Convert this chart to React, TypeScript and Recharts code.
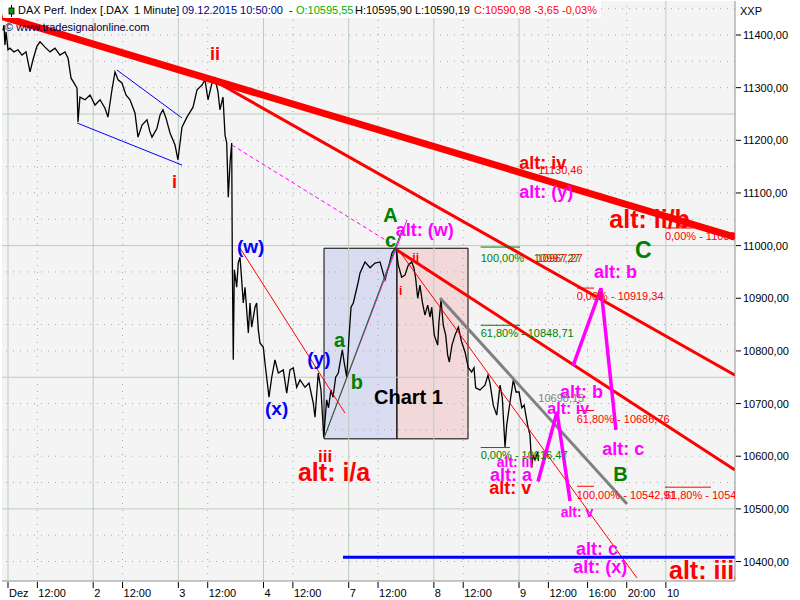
import React from "react";
import {
  ComposedChart,
  Line,
  XAxis,
  YAxis,
  CartesianGrid,
  ReferenceLine,
  ReferenceArea,
  ReferenceDot,
} from "recharts";

// x is trading time in hours since 1 Dec 09:00 (historic days ~8.7h apart, future part continuous)
const xTickVals = [0, 3, 8.7, 11.7, 17.4, 20.4, 26.1, 29.1, 34.8, 37.8, 43.5, 46.5, 52.2, 55.2, 59.2, 63.2, 67.2];
const xTickLabels = ["Dez", "12:00", "2", "12:00", "3", "12:00", "4", "12:00", "7", "12:00", "8", "12:00", "9", "12:00", "16:00", "20:00", "10"];
const daySplits = [0, 8.7, 17.4, 26.1, 34.8, 43.5, 52.2, 67.2];
const hourMarks = [3, 11.7, 20.4, 29.1, 37.8, 46.5, 55.2, 59.2, 63.2];

const yTicks = [10400, 10500, 10600, 10700, 10800, 10900, 11000, 11100, 11200, 11300, 11400];
const yMajor = [10500, 10750, 11000, 11250];
const yMinor = [10400, 10450, 10550, 10600, 10650, 10700, 10800, 10850, 10900, 10950, 11050, 11100, 11150, 11200, 11300, 11350, 11400, 11450];

// DAX 1 minute closes [time, price]
const dax1m: [number, number][] = [
  [-0.51, 11409], [-0.41, 11419], [-0.31, 11381], [-0.2, 11406], [0, 11372], [0.2, 11375], [0.61, 11368],
  [1.02, 11372], [1.43, 11362], [1.84, 11368], [2.25, 11330], [2.55, 11353], [2.96, 11379], [3.27, 11387],
  [3.78, 11377], [4.29, 11368], [4.8, 11375], [5.31, 11362], [5.82, 11368], [6.13, 11356], [6.44, 11318],
  [6.74, 11309], [7.05, 11299], [7.15, 11235], [7.35, 11282], [7.87, 11277], [8.38, 11286], [8.89, 11267],
  [9.4, 11277], [9.91, 11261], [10.21, 11244], [10.62, 11296], [10.93, 11330], [11.24, 11315], [11.64, 11309],
  [12.05, 11286], [12.46, 11277], [12.97, 11252], [13.28, 11206], [13.69, 11229], [14.2, 11239], [14.5, 11216],
  [14.71, 11206], [15.22, 11223], [15.53, 11248], [15.83, 11258], [16.14, 11242], [16.55, 11214], [17.06, 11191],
  [17.36, 11163], [17.77, 11225], [18.28, 11244], [18.9, 11263], [19.31, 11296], [19.82, 11305], [20.12, 11315],
  [20.43, 11277], [20.84, 11309], [21.14, 11318], [21.45, 11292], [21.65, 11258], [21.96, 11282], [22.17, 11210],
  [22.34, 11195], [22.5, 11092], [22.68, 11157], [22.85, 11195], [22.91, 10978], [23.01, 10783], [23.12, 10954],
  [23.36, 10921], [23.52, 10967], [23.7, 10978], [23.87, 10935], [24.03, 10891], [24.21, 10921], [24.38, 10878],
  [24.55, 10834], [24.72, 10891], [24.89, 10845], [25.23, 10883], [25.4, 10891], [25.57, 10840], [25.74, 10815],
  [26.08, 10807], [26.25, 10777], [26.66, 10712], [26.94, 10750], [27.27, 10783], [27.61, 10758], [28.12, 10764],
  [28.47, 10720], [28.8, 10764], [29.14, 10768], [29.49, 10731], [29.83, 10745], [30.34, 10731], [30.75, 10739],
  [31.18, 10701], [31.36, 10674], [31.69, 10758], [31.97, 10726], [32.25, 10636], [32.55, 10707], [32.74, 10692],
  [32.99, 10726], [33.2, 10712], [33.47, 10750], [33.74, 10758], [33.91, 10777], [34.15, 10802], [34.35, 10777],
  [34.6, 10750], [34.83, 10826], [35.04, 10883], [35.27, 10891], [35.75, 10929], [35.96, 10948], [36.47, 10969],
  [36.98, 10958], [37.49, 10967], [38, 10969], [38.51, 10935], [38.92, 10963], [39.22, 10986], [39.6, 10997],
  [39.87, 10963], [40.21, 10940], [40.55, 10944], [40.89, 10963], [41.24, 10969], [41.47, 10957], [41.64, 10938],
  [41.85, 10900], [42.08, 10925], [42.32, 10893], [42.59, 10868], [42.87, 10887], [43.11, 10864], [43.28, 10883],
  [43.54, 10830], [43.89, 10811], [44.02, 10855], [44.23, 10897], [44.46, 10849], [44.71, 10830], [44.91, 10792],
  [45.08, 10779], [45.35, 10811], [45.66, 10830], [46.0, 10845], [46.34, 10817], [46.68, 10798], [47.02, 10768],
  [47.36, 10760], [47.6, 10768], [47.77, 10730], [48.21, 10726], [48.72, 10735], [49.03, 10754], [49.23, 10739],
  [49.57, 10697], [49.92, 10678], [50.26, 10735], [50.49, 10711], [50.77, 10617], [50.94, 10659], [51.28, 10703],
  [51.62, 10745], [51.89, 10722], [52.2, 10722], [52.48, 10692], [52.72, 10697], [53.08, 10659], [53.32, 10640],
  [53.5, 10578], [53.63, 10602], [53.83, 10593], [54.1, 10608], [54.18, 10591],
];

// projected wave paths
const zigUpper: [number, number][] = [[57.71, 10771], [60.57, 10919], [62.1, 10650]];
const zigLower: [number, number][] = [[54.14, 10552], [56.08, 10684], [57.41, 10515]];

const RED = "#ff0000";
const MAG = "#ff00ff";
const GRN = "#008000";
const BLU = "#0000ff";
const FONT = "'Liberation Sans', Arial, sans-serif";

const trendLines = [
  { a: [-0.6, 11435], b: [74.26, 11016], c: RED, w: 7 },
  { a: [20.94, 11314.5], b: [74.26, 10754], c: RED, w: 3 },
  { a: [39.73, 10991.7], b: [74.26, 10573.8], c: RED, w: 3 },
  { a: [40.04, 10987.8], b: [64.25, 10368.7], c: RED, w: 1 },
  { a: [23.7, 10995.4], b: [34.42, 10682], c: RED, w: 1 },
  { a: [22.88, 11191], b: [39.22, 11003], c: MAG, w: 1, dash: "4 3" },
  { a: [32.28, 10634.6], b: [40.76, 11048.6], c: MAG, w: 1 },
  { a: [32.28, 10634.6], b: [40.25, 11029.6], c: GRN, w: 1 },
  { a: [44.13, 10900.5], b: [63.23, 10509.2], c: "#808080", w: 3 },
  { a: [11.13, 11333.5], b: [17.77, 11242.4], c: BLU, w: 1 },
  { a: [7.05, 11232.9], b: [17.77, 11153], c: BLU, w: 1 },
  { a: [34.22, 10408.08], b: [74.26, 10408.08], c: BLU, w: 3 },
  // fibonacci markers
  { a: [48.28, 10997.27], b: [52.3, 10997.27], c: GRN, w: 1 },
  { a: [48.28, 10848.71], b: [52.3, 10848.71], c: GRN, w: 1 },
  { a: [48.28, 10616.47], b: [51.28, 10616.47], c: GRN, w: 1 },
  { a: [58.12, 10919.34], b: [59.86, 10919.34], c: RED, w: 1 },
  { a: [58.12, 10686.76], b: [59.86, 10686.76], c: RED, w: 1 },
  { a: [58.12, 10542.91], b: [59.86, 10542.91], c: RED, w: 1 },
  { a: [67.1, 10541.2], b: [71.8, 10541.2], c: RED, w: 1 },
  { a: [67.1, 11033.5], b: [70, 11033.5], c: RED, w: 1 },
];

const notes = [
  { s: "ii", t: 20.63, p: 11352, c: RED, z: 18, b: true },
  { s: "i", t: 16.75, p: 11109, c: RED, z: 18, b: true },
  { s: "(w)", t: 23.39, p: 10986, c: BLU, z: 19, b: true },
  { s: "(x)", t: 26.25, p: 10678, c: BLU, z: 19, b: true },
  { s: "(y)", t: 30.57, p: 10773, c: BLU, z: 19, b: true },
  { s: "a", t: 33.3, p: 10808, c: GRN, z: 20, b: true },
  { s: "b", t: 35.0, p: 10728, c: GRN, z: 20, b: true },
  { s: "A", t: 38.34, p: 11045, c: GRN, z: 20, b: true },
  { s: "c", t: 38.5, p: 10997, c: GRN, z: 20, b: true },
  { s: "alt: (w)", t: 39.6, p: 11018, c: MAG, z: 18, b: true },
  { s: "i", t: 39.94, p: 10907, c: RED, z: 12, b: true },
  { s: "ii", t: 41.3, p: 10968, c: RED, z: 12, b: true },
  { s: "iii", t: 31.66, p: 10589, c: RED, z: 17, b: true },
  { s: "alt: i/a", t: 29.62, p: 10553, c: RED, z: 25, b: true },
  { s: "Chart 1", t: 37.39, p: 10700, c: "#000", z: 20, b: true },
  { s: "100,00% - 10997,27", t: 48.28, p: 10969.5, c: GRN, z: 11, b: false },
  { s: "10967,27", t: 54.0, p: 10969.5, c: RED, z: 11, b: false },
  { s: "61,80% - 10848,71", t: 48.28, p: 10826, c: GRN, z: 11, b: false },
  { s: "0,00% - 10616,47", t: 48.28, p: 10594, c: GRN, z: 11, b: false },
  { s: "0,00% - 10919,34", t: 58.09, p: 10897, c: RED, z: 11, b: false },
  { s: "61,80% - 10686,76", t: 58.09, p: 10663.6, c: RED, z: 11, b: false },
  { s: "100,00% - 10542,91", t: 58.09, p: 10518.7, c: RED, z: 11, b: false },
  { s: "61,80% - 10541,20", t: 67.1, p: 10518.7, c: RED, z: 11, b: false },
  { s: "0,00% - 11033,50", t: 67.1, p: 11010.6, c: RED, z: 11, b: false },
  { s: "alt: iv", t: 52.23, p: 11145, c: RED, z: 18, b: true },
  { s: "11130,46", t: 54.17, p: 11135.4, c: RED, z: 11, b: false },
  { s: "alt: (y)", t: 52.23, p: 11090, c: MAG, z: 18, b: true },
  { s: "alt: ii/b", t: 61.42, p: 11033, c: RED, z: 25, b: true },
  { s: "C", t: 64.05, p: 10976, c: GRN, z: 23, b: true },
  { s: "alt: b", t: 59.86, p: 10938, c: MAG, z: 18, b: true },
  { s: "alt: b", t: 56.38, p: 10710, c: MAG, z: 18, b: true },
  { s: "10698,15", t: 54.17, p: 10703.6, c: "#808080", z: 11, b: false },
  { s: "alt: iv", t: 55.09, p: 10681, c: MAG, z: 16, b: true },
  { s: "alt: c", t: 60.7, p: 10602, c: MAG, z: 18, b: true },
  { s: "B", t: 61.83, p: 10553, c: GRN, z: 20, b: true },
  { s: "alt: iii", t: 49.92, p: 10580, c: MAG, z: 14, b: true },
  { s: "alt: a", t: 49.23, p: 10553, c: MAG, z: 18, b: true },
  { s: "alt: v", t: 49.16, p: 10528, c: RED, z: 18, b: true },
  { s: "alt: v", t: 56.45, p: 10484, c: MAG, z: 14, b: true },
  { s: "alt: c", t: 58.02, p: 10412, c: MAG, z: 18, b: true },
  { s: "alt: (x)", t: 57.75, p: 10379, c: MAG, z: 18, b: true },
  { s: "alt: iii/", t: 67.52, p: 10366, c: RED, z: 25, b: true },
];

const priceData = dax1m.map(([t, v]) => ({ t, v }));
const toPts = (arr: [number, number][]) => arr.map(([t, v]) => ({ t, v }));

const XTick = (props: any) => {
  const { x, payload } = props;
  const i = xTickVals.indexOf(payload.value);
  return (
    <g>
      <line x1={x} x2={x} y1={582} y2={588} stroke="#000" />
      <text x={x + 1} y={597} fontSize={11} fontFamily={FONT} fill="#000">
        {xTickLabels[i]}
      </text>
    </g>
  );
};

const YTick = (props: any) => {
  const { y, payload } = props;
  return (
    <g>
      <line x1={736} x2={741} y1={y} y2={y} stroke="#000" />
      <text x={743} y={y + 4} fontSize={11} fontFamily={FONT} fill="#000">
        {payload.value.toFixed(2).replace(".", ",")}
      </text>
    </g>
  );
};

export default function App() {
  return (
    <div style={{ position: "fixed", left: 0, top: 0, width: 800, height: 600, background: "#fff" }}>
      <svg width={0} height={0} style={{ position: "absolute" }}>
        <defs>
          <clipPath id="plotClip" clipPathUnits="userSpaceOnUse">
            <rect x={2} y={1} width={733} height={580} />
          </clipPath>
        </defs>
      </svg>
      <ComposedChart width={800} height={600} data={priceData} margin={{ top: 1, right: 0, bottom: 0, left: 2 }}>
        <CartesianGrid fill="#f4f4f4" stroke="none" />
        <XAxis
          type="number"
          dataKey="t"
          domain={[-0.613, 74.26]}
          allowDataOverflow
          ticks={xTickVals}
          tick={<XTick />}
          tickLine={false}
          height={19}
          axisLine={{ stroke: "#909090" }}
          interval={0}
        />
        <YAxis
          orientation="right"
          type="number"
          domain={[10363, 11464.6]}
          allowDataOverflow
          ticks={yTicks}
          tick={<YTick />}
          tickLine={false}
          width={65}
          axisLine={{ stroke: "#909090" }}
          interval={0}
        />
        {yMinor.map((v) => (
          <ReferenceLine key={"ym" + v} y={v} stroke="#a8a8a8" strokeDasharray="1 6" ifOverflow="hidden" />
        ))}
        {hourMarks.map((v) => (
          <ReferenceLine key={"xm" + v} x={v} stroke="#a8a8a8" strokeDasharray="1 6" ifOverflow="hidden" />
        ))}
        {yMajor.map((v) => (
          <ReferenceLine key={"yM" + v} y={v} stroke="#bccdbc" ifOverflow="hidden" />
        ))}
        {daySplits.map((v) => (
          <ReferenceLine key={"xM" + v} x={v} stroke="#bccdbc" ifOverflow="hidden" />
        ))}
        <ReferenceArea x1={32.28} x2={39.73} y1={10633} y2={10995} fill="#c8cdf0" fillOpacity={0.6} stroke="#000" strokeOpacity={1} ifOverflow="hidden" />
        <ReferenceArea x1={39.73} x2={46.99} y1={10633} y2={10995} fill="#f0c4c4" fillOpacity={0.6} stroke="#000" strokeOpacity={1} ifOverflow="hidden" />
        <Line dataKey="v" stroke="#000" strokeWidth={1.3} dot={false} isAnimationActive={false} type="linear" />
        {trendLines.map((l, i) => (
          <ReferenceLine
            key={"tl" + i}
            segment={[{ x: l.a[0], y: l.a[1] }, { x: l.b[0], y: l.b[1] }]}
            stroke={l.c}
            strokeWidth={l.w}
            strokeDasharray={l.dash}
            ifOverflow="hidden"
          />
        ))}
        <Line data={toPts(zigUpper)} dataKey="v" stroke={MAG} strokeWidth={3.5} dot={false} isAnimationActive={false} type="linear" />
        <Line data={toPts(zigLower)} dataKey="v" stroke={MAG} strokeWidth={3.5} dot={false} isAnimationActive={false} type="linear" />
        {notes.map((n, i) => (
          <ReferenceDot
            key={"n" + i}
            x={n.t}
            y={n.p}
            r={0}
            ifOverflow="hidden"
            shape={(pr: any) => (
              <text
                x={pr.cx}
                y={pr.cy}
                fill={n.c}
                fontSize={n.z}
                fontWeight={n.b ? 700 : 400}
                fontFamily={FONT}
                clipPath="url(#plotClip)"
              >
                {n.s}
              </text>
            )}
          />
        ))}
      </ComposedChart>
      <svg width={800} height={600} style={{ position: "absolute", left: 0, top: 0, pointerEvents: "none" }}>
        <rect x={3} y={1} width={598} height={17} fill="#fff" />
        <line x1={11.5} x2={11.5} y1={5} y2={17} stroke="#000" />
        <rect x={9} y={8} width={5} height={6} fill="#00a000" stroke="#000" strokeWidth={0.8} />
        <g fontFamily={FONT} fontSize={11}>
          <text x={18} y={14} fill="#000">DAX Perf. Index [.DAX</text>
          <text x={134} y={14} fill="#000">1 Minute]</text>
          <text x={182} y={14} fill="#00007f">09.12.2015 10:50:00</text>
          <text x={289} y={14} fill="#000">-</text>
          <text x={296} y={14} fill="#00b000">O:10595,55</text>
          <text x={355} y={14} fill="#000">H:10595,90 L:10590,19</text>
          <text x={474} y={14} fill={RED}>C:10590,98 -3,65 -0,03%</text>
          <text x={5} y={31} fill="#000040">© www.tradesignalonline.com</text>
          <text x={740} y={15} fill="#000">XXP</text>
        </g>
      </svg>
    </div>
  );
}
